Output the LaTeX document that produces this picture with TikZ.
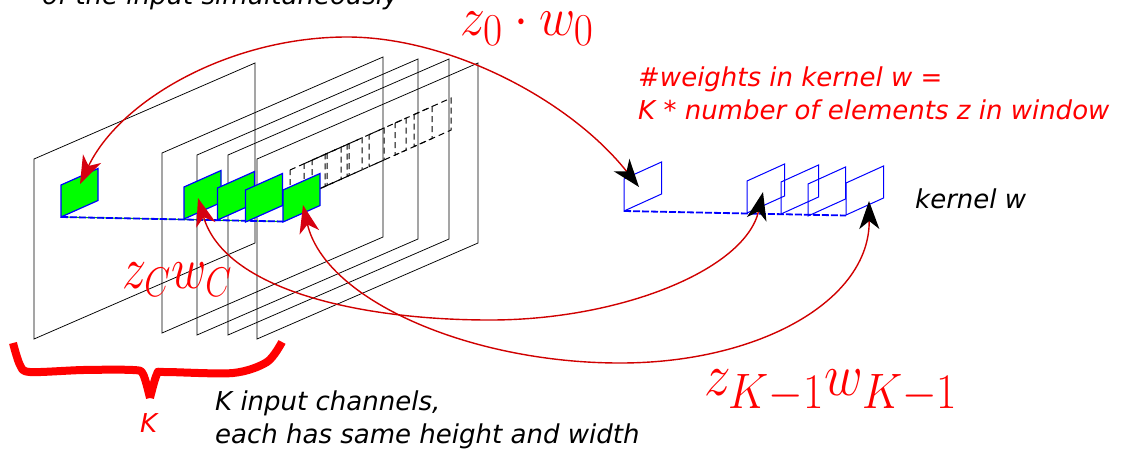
\documentclass[tikz,border=0pt]{standalone}
\usepackage{fontspec}
\setmainfont{DejaVu Sans}
\usepackage{xcolor}
\usetikzlibrary{arrows.meta, calc}
\definecolor{arcred}{RGB}{208,0,0}
\definecolor{tipred}{RGB}{214,0,16}
\tikzset{
  plane/.style={draw=black, line width=0.75pt},
  ghost/.style={draw=black, dash pattern=on 6pt off 4pt, line width=1pt},
  patch/.style={draw=blue, fill=green, line width=1.2pt},
  kern/.style={draw=blue, line width=1pt},
  link/.style={draw=blue, dash pattern=on 7pt off 2pt, line width=1.8pt},
  arc/.style={draw=arcred, line width=1.4pt,
              {Stealth[length=28pt, width=20pt, inset=8pt, color=tipred]}-{Stealth[length=28pt, width=20pt, inset=8pt, color=black]}},
  note/.style={font=\fontsize{26}{32.5}\selectfont\itshape, anchor=north west, inner sep=0pt, align=left},
  mathbig/.style={text=red, inner sep=0pt, anchor=base west, transform shape,
                  font=\fontsize{24.88}{30}\selectfont},
}
\begin{document}
\begin{tikzpicture}[x=1pt, y=-1pt]
  \useasboundingbox (0,0) rectangle (1121,448);

  \foreach \x/\y in {34/159, 162/153, 197/155, 228/155, 257/159}
    \draw[plane] (\x,\y) -- ++(221,-96) -- ++(0,180) -- ++(-221,96) -- cycle;

  \foreach \x in {290, 304, 312, 325, 347, 369, 395, 414}
    \draw[ghost] (\x,{170-0.447*(\x-290)}) -- ++(37,-16.5) -- ++(0,32) -- ++(-37,16.5) -- cycle;

  \draw[green!70!black, line width=1pt] (61,217) -- (283,221.5);
  \draw[link] (61,217) -- (283,221.5);
  \foreach \x/\y in {61/185, 184/187, 217.5/188, 283/190, 245.5/190}
    \draw[patch] (\x,\y) -- ++(37,-16.5) -- ++(0,32) -- ++(-37,16.5) -- cycle;

  \draw[link] (624,211) -- (846,215.5);
  \foreach \x/\y in {624/179, 747/181, 781/182, 846/183, 808/184}
    \draw[kern] (\x,\y) -- ++(37.5,-17) -- ++(0,32) -- ++(-37.5,17) -- cycle;

  \coordinate (zfirst) at (80,184);
  \coordinate (zmid) at (198,198);
  \coordinate (zlast) at (303,205);
  \coordinate (wfirst) at (639,187);
  \coordinate (wmid) at (763,192);
  \coordinate (wlast) at (869,201);

  \draw[arc] (zfirst) .. controls (120,100) and (230,37) .. (347,37)
             .. controls (450,37) and (570,100) .. (wfirst);
  \draw[arc] (zmid) .. controls (225,290) and (360,320) .. (490,320)
             .. controls (620,320) and (745,270) .. (wmid);
  \draw[arc] (zlast) .. controls (325,300) and (470,363) .. (620,363)
             .. controls (760,363) and (870,300) .. (wlast);

  \draw[draw=red, line width=8pt, line join=round]
    plot[smooth, tension=0.5] coordinates {(13,343) (20,365) (30,372) (83,370) (133,370) (143,374) (150,398)};
  \draw[draw=red, line width=8pt, line join=round]
    plot[smooth, tension=0.5] coordinates {(150,398) (157,374) (165,372) (233,373) (267,362) (282,342)};

  \node[note] (intro) at (42,-15.5) {of the input simultaneously};
  \node[note, text=red] (count) at (638,67) {\#weights in kernel w =\\K * number of elements z in window};
  \node[note] (kernlab) at (915,189) {kernel w};
  \node[note] (chan) at (215,391) {K input channels,\\each has same height and width};
  \node[note, text=red] (klab) at (140,413) {K};

  \node[mathbig, xscale=2.0, yscale=2.2] (zzero) at (460,35) {$z_0\cdot w_0$};
  \node[mathbig, xscale=1.95, yscale=2.4] (zcen) at (122,288) {$z_{\scriptscriptstyle C} w_{\scriptscriptstyle C}$};
  \node[mathbig, xscale=2.14, yscale=2.4] (zend) at (704,395) {$z_{K-1} w_{K-1}$};
\end{tikzpicture}
\end{document}
